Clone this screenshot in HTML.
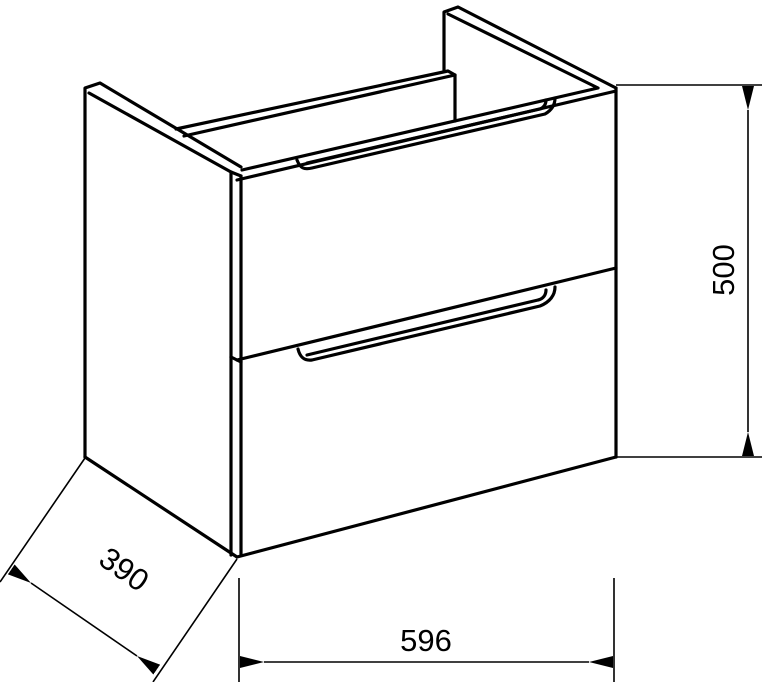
<!DOCTYPE html>
<html><head><style>html,body{margin:0;padding:0;background:#fff}svg{display:block}</style></head>
<body>
<svg width="762" height="682" viewBox="0 0 762 682" xmlns="http://www.w3.org/2000/svg">
<defs>
<marker id="a" viewBox="0 0 24 12" refX="0" refY="6" markerWidth="24" markerHeight="12" markerUnits="userSpaceOnUse" orient="auto-start-reverse"><path d="M0,6 L24,0 L24,12 Z" fill="#000"/></marker>
</defs>
<g fill="none" stroke="#000" stroke-width="3.2" stroke-linejoin="round" stroke-linecap="round">
<path d="M85,457 L85,88 L100,83 L241,167"/>
<path d="M89,93 L231,172"/>
<path d="M85,457 L237,557"/>
<path d="M231,172 L231,555"/>
<path d="M241,176 L241,555"/>
<path d="M231,172 L241,176"/>
<path d="M176,129 L448,71 L455,75 L184,136"/>
<path d="M455,75 L455,121"/>
<path d="M444,70 L444,12 L458,7 L616,88"/>
<path d="M448,14 L598,88 L242,170"/>
<path d="M237,180 L616,91 L616,457"/>
<path d="M616,88 L616,91"/>
<path d="M297,160 C300,168 304,170 312,168 L545,114 C552,110 555,104 555,98"/>
<path d="M546,100 C546,105 543,108 540,109 L307,163"/>
<path d="M237,360 L616,268"/>
<path d="M231,357 L241,362"/>
<path d="M298,349 C300,357 304,361 312,360 L540,306 C550,302 555,295 555,287"/>
<path d="M546,290 C546,295 543,299 538,300 L307,355"/>
<path d="M237,557 L616,457"/>
</g>
<g fill="none" stroke="#000" stroke-width="1.6">
<path d="M616,85 L762,85 M616,457 L762,457"/>
<path d="M748,110 L748,432" marker-start="url(#a)" marker-end="url(#a)"/>
<path d="M239,578 L239,682 M614,578 L614,682"/>
<path d="M264,662 L589,662" marker-start="url(#a)" marker-end="url(#a)"/>
<path d="M85,458 L0,582 M237,559 L153,682"/>
<path d="M31,583 L137,656" marker-start="url(#a)" marker-end="url(#a)"/>
</g>
<g font-family="Liberation Sans, sans-serif" font-size="31" fill="#000" text-anchor="middle">
<text x="0" y="0" transform="translate(734,270) rotate(-90)">500</text>
<text x="426" y="651">596</text>
<text x="0" y="0" transform="translate(118,578) rotate(35)">390</text>
</g>
</svg>
</body></html>
